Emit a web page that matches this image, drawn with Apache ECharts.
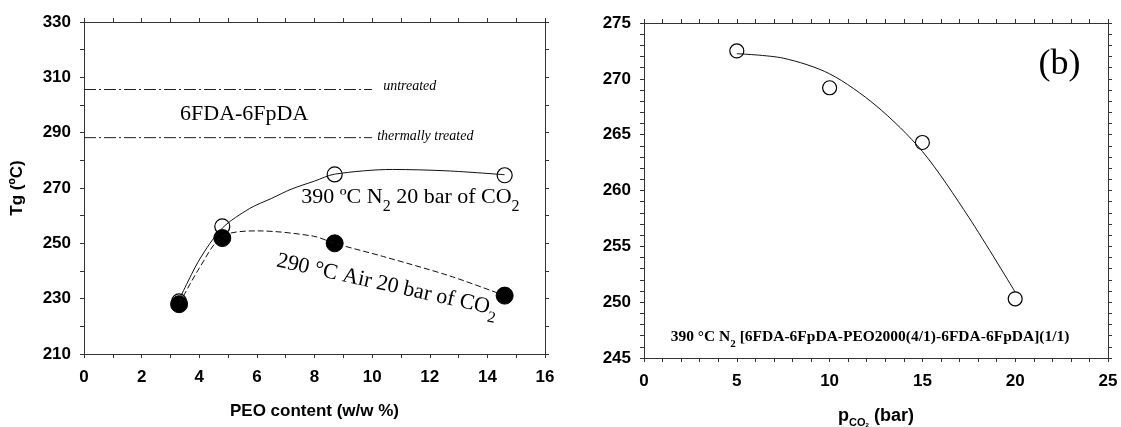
<!DOCTYPE html>
<html>
<head>
<meta charset="utf-8">
<script src="https://cdn.jsdelivr.net/npm/echarts@6/dist/echarts.min.js"></script>
<style>
  html, body { margin: 0; padding: 0; background: #fff; }
  #chart { width: 1121px; height: 427px; }
</style>
</head>
<body>
<div id="chart"></div>
<script>
// ---- left panel: Tg vs PEO content ----
const peoContent = [3.3, 4.8, 8.7, 14.6];
const tgN2 = [229.0, 256.1, 274.9, 274.6];      // 390 ºC N2, 20 bar CO2 (open)
const tgAir = [228.0, 251.9, 250.0, 231.1];     // 290 ºC Air, 20 bar CO2 (filled)

// trend curves drawn through the two series
const fitN2X = [3.3, 4.0, 4.8, 5.75, 6.5, 7.2, 8.0, 8.7, 10.7, 12.6, 14.6];
const fitN2Y = [229.5, 244.0, 255.5, 262.6, 266.2, 269.6, 272.5, 275.0, 276.7, 276.2, 274.8];
const fitAirX = [3.3, 4.0, 4.8, 6.03, 7.96, 8.7, 10.4, 12.7, 14.6];
const fitAirY = [228.0, 241.0, 252.5, 254.5, 252.6, 250.0, 245.2, 238.2, 231.1];

// reference levels of the neat 6FDA-6FpDA polyimide
const refSpanX = [0, 10];
const tgUntreated = 305.6;
const tgThermal = 288.2;

// ---- right panel: Tg vs CO2 pressure ----
const pressure = [5, 10, 15, 20];
const tgPressure = [272.5, 269.2, 264.3, 250.3];
const fitPX = [5, 7.5, 10, 12.5, 15, 17.5, 20];
const fitPY = [272.25, 271.85, 270.45, 267.6, 263.5, 257.6, 250.9];

// axis ranges / tick steps
const leftXRange = [0, 16, 2];
const leftYRange = [210, 330, 20];
const rightXRange = [0, 25, 5];
const rightYRange = [245, 275, 5];

const pairs = (xs, ys) => xs.map((x, i) => [x, ys[i]]);

const INK = '#000';
const AXIS = '#333';
const SANS = 'Liberation Sans';
const SERIF = 'Liberation Serif';

function axis(range, minorSplit, gridIndex, position, showLabel, extra) {
  const isX = position === 'bottom' || position === 'top';
  return Object.assign({
    type: 'value',
    gridIndex: gridIndex,
    position: position,
    min: range[0], max: range[1], interval: range[2],
    axisLine: { show: true, onZero: false, lineStyle: { color: AXIS, width: 1 } },
    axisTick: { show: true, inside: false, length: 4, lineStyle: { color: AXIS, width: 1 } },
    minorTick: { show: true, splitNumber: minorSplit, length: 4, lineStyle: { color: AXIS, width: 1 } },
    splitLine: { show: false },
    minorSplitLine: { show: false },
    axisLabel: {
      show: showLabel, color: INK, fontFamily: SANS, fontWeight: 'bold', fontSize: 17,
      margin: isX ? 15 : 13
    }
  }, extra || {});
}

const chart = echarts.init(document.getElementById('chart'), null, { renderer: 'canvas' });

const option = {
  animation: false,
  backgroundColor: '#fff',
  grid: [
    { left: 84, top: 22, width: 461, height: 332, outerBoundsMode: 'none', containLabel: false },
    { left: 644, top: 23, width: 464, height: 335, outerBoundsMode: 'none', containLabel: false }
  ],
  xAxis: [
    axis(leftXRange, 2, 0, 'bottom', true, {
      name: 'PEO content (w/w %)', nameLocation: 'middle', nameGap: 49,
      nameTextStyle: { color: INK, fontFamily: SANS, fontWeight: 'bold', fontSize: 17 }
    }),
    axis(leftXRange, 2, 0, 'top', false),
    axis(rightXRange, 5, 1, 'bottom', true, {
      name: '{p|p}{s|CO}{t|2}{p| (bar)}', nameLocation: 'middle', nameGap: 46,
      nameTextStyle: {
        color: INK,
        rich: {
          p: { fontFamily: SANS, fontWeight: 'bold', fontSize: 18, lineHeight: 24, color: INK },
          s: { fontFamily: SANS, fontWeight: 'bold', fontSize: 11, lineHeight: 12, verticalAlign: 'bottom', color: INK },
          t: { fontFamily: SANS, fontWeight: 'bold', fontSize: 6, lineHeight: 6, verticalAlign: 'bottom', color: INK }
        }
      }
    }),
    axis(rightXRange, 5, 1, 'top', false)
  ],
  yAxis: [
    axis(leftYRange, 2, 0, 'left', true, {
      name: 'Tg (ºC)', nameLocation: 'middle', nameGap: 58, nameRotate: 90,
      nameTextStyle: { color: INK, fontFamily: SANS, fontWeight: 'bold', fontSize: 17 }
    }),
    axis(leftYRange, 2, 0, 'right', false),
    axis(rightYRange, 5, 1, 'left', true),
    axis(rightYRange, 5, 1, 'right', false)
  ],
  series: [
    {
      type: 'line', xAxisIndex: 0, yAxisIndex: 0, symbol: 'none',
      data: refSpanX.map(x => [x, tgUntreated]),
      lineStyle: { color: '#222', width: 1, type: [12, 3, 2, 3] },
      endLabel: {
        show: true, formatter: 'untreated', distance: 11, offset: [0, -3],
        fontFamily: SERIF, fontStyle: 'italic', fontSize: 14, color: INK
      }
    },
    {
      type: 'line', xAxisIndex: 0, yAxisIndex: 0, symbol: 'none',
      data: refSpanX.map(x => [x, tgThermal]),
      lineStyle: { color: '#222', width: 1, type: [12, 3, 2, 3] },
      endLabel: {
        show: true, formatter: 'thermally treated', distance: 5, offset: [0, -1],
        fontFamily: SERIF, fontStyle: 'italic', fontSize: 14, color: INK
      }
    },
    {
      type: 'line', xAxisIndex: 0, yAxisIndex: 0, symbol: 'none',
      smooth: 0.3,
      data: pairs(fitN2X, fitN2Y),
      lineStyle: { color: '#111', width: 1 }
    },
    {
      type: 'line', xAxisIndex: 0, yAxisIndex: 0, symbol: 'none',
      smooth: 0.3,
      data: pairs(fitAirX, fitAirY),
      lineStyle: { color: '#111', width: 1, type: [6, 3] }
    },
    {
      type: 'scatter', xAxisIndex: 0, yAxisIndex: 0,
      symbol: 'circle', symbolSize: 15,
      data: pairs(peoContent, tgN2),
      itemStyle: { color: '#fff', borderColor: '#000', borderWidth: 1.2, opacity: 1 }
    },
    {
      type: 'scatter', xAxisIndex: 0, yAxisIndex: 0,
      symbol: 'circle', symbolSize: 17,
      data: pairs(peoContent, tgAir),
      itemStyle: { color: '#000', borderColor: '#000', borderWidth: 1, opacity: 1 }
    },
    {
      type: 'line', xAxisIndex: 2, yAxisIndex: 2, symbol: 'none',
      smooth: 0.3,
      data: pairs(fitPX, fitPY),
      lineStyle: { color: '#111', width: 1 }
    },
    {
      type: 'scatter', xAxisIndex: 2, yAxisIndex: 2,
      symbol: 'circle', symbolSize: 14,
      data: pairs(pressure, tgPressure),
      itemStyle: { color: '#fff', borderColor: '#000', borderWidth: 1.2, opacity: 1 }
    }
  ]
};

chart.setOption(option);

// text annotations, anchored in data coordinates of each panel
const toPx = (grid, pt) => chart.convertToPixel({ gridIndex: grid }, pt);

const serifRich = (size, sub, bold) => ({
  a: { fontFamily: SERIF, fontSize: size, lineHeight: size * 1.6, fontWeight: bold ? 'bold' : 'normal', fill: INK, color: INK },
  s: { fontFamily: SERIF, fontSize: sub, lineHeight: sub, verticalAlign: 'bottom', fontWeight: bold ? 'bold' : 'normal', fill: INK, color: INK }
});

const p6F = toPx(0, [5.56, 296.7]);
const pN2 = toPx(0, [7.54, 266.6]);
const pAir = toPx(0, [10.52, 234.9]);
const pB = toPx(1, [22.39, 271.3]);
const pNote = toPx(1, [1.44, 246.9]);

chart.setOption({
  graphic: [
    {
      type: 'text', x: p6F[0], y: p6F[1],
      style: { text: '6FDA-6FpDA', font: '22px "Liberation Serif"', fill: INK, align: 'center', verticalAlign: 'middle' }
    },
    {
      type: 'text', x: pN2[0], y: pN2[1],
      style: {
        text: '{a|390 ºC N}{s|2}{a| 20 bar of CO}{s|2}',
        rich: serifRich(22, 16, false), align: 'left', verticalAlign: 'middle'
      }
    },
    {
      type: 'text', x: pAir[0], y: pAir[1], rotation: -12.5 * Math.PI / 180,
      style: {
        text: '{a|290 °C Air 20 bar of CO}{s|2}',
        rich: serifRich(22, 16, false), align: 'center', verticalAlign: 'middle'
      }
    },
    {
      type: 'text', x: pB[0], y: pB[1],
      style: { text: '(b)', font: '36px "Liberation Serif"', fill: INK, align: 'center', verticalAlign: 'middle' }
    },
    {
      type: 'text', x: pNote[0], y: pNote[1],
      style: {
        text: '{a|390 °C N}{s|2}{a| [6FDA-6FpDA-PEO2000(4/1)-6FDA-6FpDA](1/1)}',
        rich: serifRich(15.5, 11, true), align: 'left', verticalAlign: 'middle'
      }
    }
  ]
});
</script>
</body>
</html>
